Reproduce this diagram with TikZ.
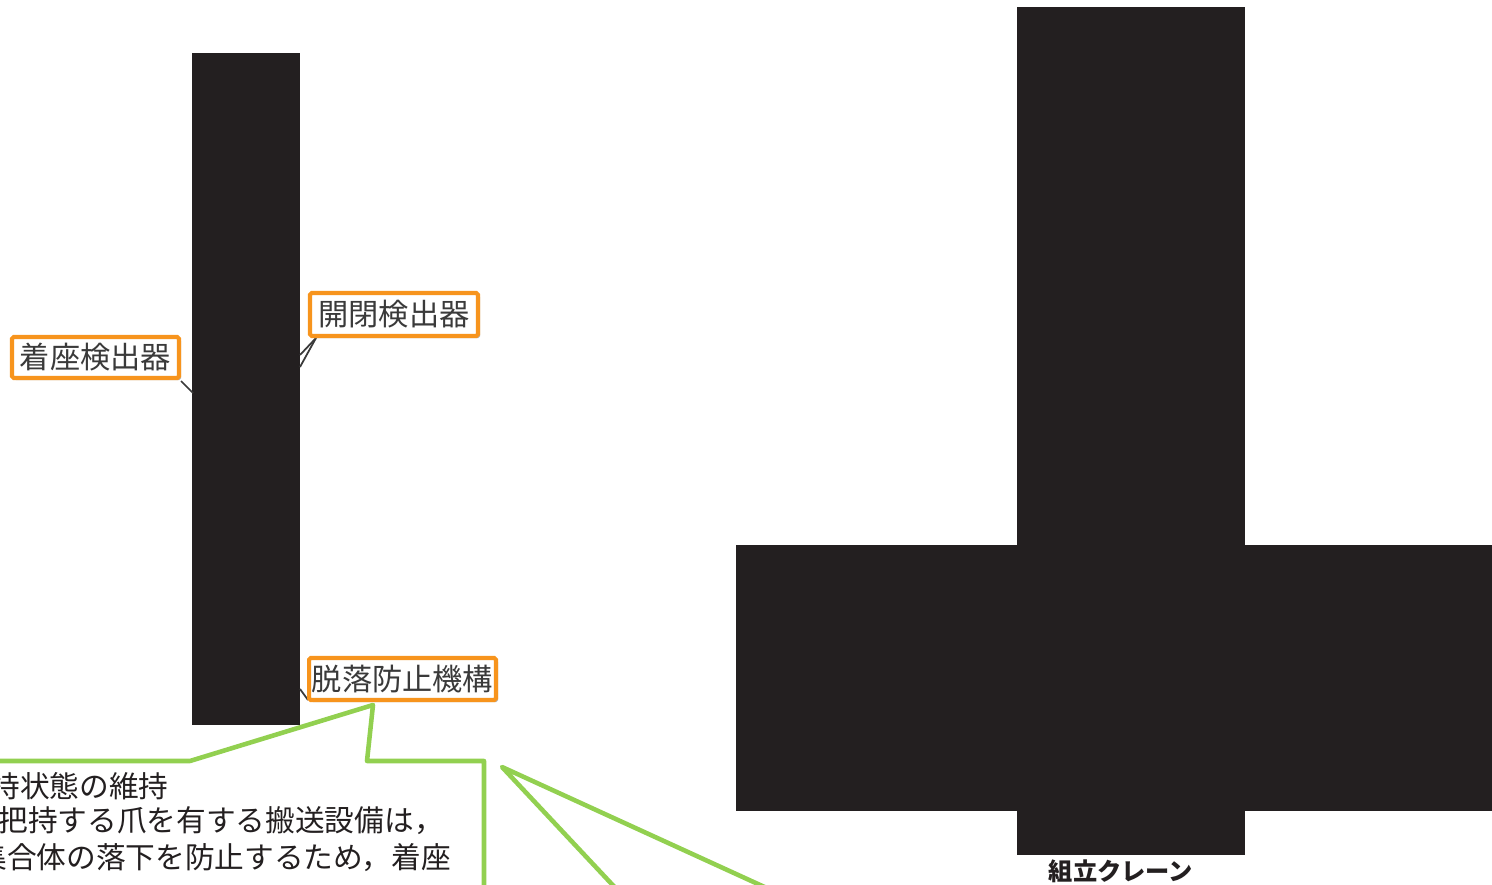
\documentclass[tikz,border=0pt]{standalone}
\usepackage{fontspec}
\setmainfont{Noto Sans CJK JP}
\usetikzlibrary{shadows}
\definecolor{redact}{HTML}{231F20}
\definecolor{tagorange}{HTML}{F7941D}
\definecolor{notegreen}{HTML}{92D050}
\definecolor{taggray}{HTML}{3A3A3A}
\begin{document}
\begin{tikzpicture}[
  x=0.02cm, y=-0.02cm,
  blk/.style={fill=redact, draw=none, inner sep=0pt},
  tag/.style={draw=tagorange, line width=2.3pt, rounded corners=1pt, fill=white,
              text=taggray, inner sep=0pt, font=\fontsize{17.2}{19}\selectfont,
              drop shadow={shadow xshift=1.2pt, shadow yshift=-1.2pt, fill=gray!55, opacity=1}},
  lead/.style={draw=taggray, line width=1pt},
  callout/.style={draw=notegreen, line width=2.6pt, line join=round, line cap=round},
  note/.style={anchor=west, inner sep=0pt, text=redact, font=\fontsize{16.9}{19}\selectfont}
]
  \useasboundingbox (0,0) rectangle (1492,885);
  \clip (0,0) rectangle (1492,885);
  \node[blk, minimum width=2.16cm, minimum height=13.44cm] (grapple) at (246,389) {};
  \node[blk, minimum width=15.12cm, minimum height=5.32cm] (beam) at (1114,678) {};
  \node[blk, minimum width=4.56cm, minimum height=16.96cm] (mast) at (1131,431) {};
  \node[font=\bfseries\fontsize{13.8}{15}\selectfont, text=redact, inner sep=0pt] (cranename) at (1121,871) {組立クレーン};
  \coordinate (seatpt) at (193,393);
  \coordinate (openpta) at (300,355);
  \coordinate (openptb) at (300,367);
  \coordinate (droppt) at (300,689);
  \draw[lead] (181,381) -- (seatpt);
  \draw[lead] (316,338) -- (openpta);
  \draw[lead] (316,338) -- (openptb);
  \draw[lead] (308,700) -- (droppt);
  \node[tag, minimum width=3.34cm, minimum height=0.82cm] (seatdet) at (95.5,357.5) {着座検出器};
  \node[tag, minimum width=3.36cm, minimum height=0.86cm] (opendet) at (394,314.5) {開閉検出器};
  \node[tag, minimum width=3.74cm, minimum height=0.84cm] (dropstop) at (402.5,679) {脱落防止機構};
  \coordinate (tip) at (373,705);
  \draw[callout] (-10,761) -- (190,761) -- (tip) -- (367,761) -- (484,761) -- (484,900);
  \coordinate (apex) at (502,767);
  \coordinate (legA) at (622,895);
  \coordinate (legB) at (782,895);
  \draw[callout] (legA) -- (apex) -- (legB);
  \node[note] (noteA) at (-10,786) {持状態の維持};
  \node[note] (noteB) at (-2,821) {把持する爪を有する搬送設備は，};
  \node[note] (noteC) at (-23,858) {集合体の落下を防止するため，着座};
\end{tikzpicture}
\end{document}
